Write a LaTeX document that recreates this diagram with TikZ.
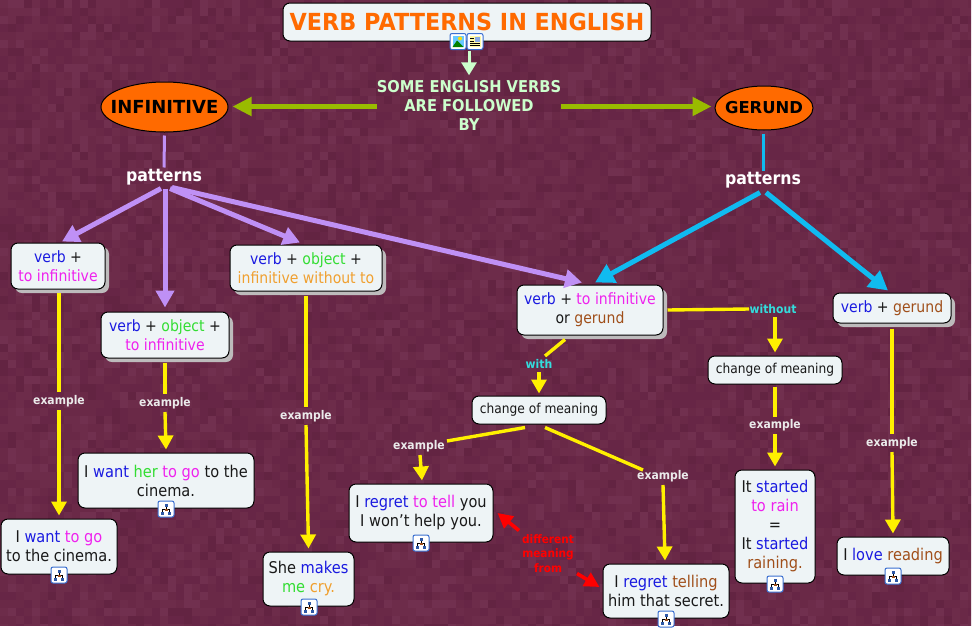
\documentclass[tikz,border=0pt]{standalone}
\usepackage{fontspec}
\setmainfont{DejaVu Sans}[FakeStretch=0.9]
\newfontfamily\widef{DejaVu Sans}
\newfontfamily\titlef{DejaVu Sans}[FakeStretch=0.95]
\usetikzlibrary{arrows.meta,shapes.geometric}
\definecolor{bgbase}{HTML}{6A2947}
\definecolor{tileA}{HTML}{632442}
\definecolor{tileB}{HTML}{672646}
\definecolor{tileC}{HTML}{6A2947}
\definecolor{tileD}{HTML}{6D2C4A}
\definecolor{tileE}{HTML}{71304F}
\definecolor{boxfill}{HTML}{EEF4F6}
\definecolor{shade}{HTML}{BDBBBC}
\definecolor{vblue}{HTML}{1A1AE0}
\definecolor{vmag}{HTML}{EE22EE}
\definecolor{vgreen}{HTML}{33DD33}
\definecolor{vorange}{HTML}{F0A030}
\definecolor{vbrown}{HTML}{A04F1A}
\definecolor{titleor}{HTML}{FF6A00}
\definecolor{mint}{HTML}{CCFFCC}
\definecolor{lime}{HTML}{99BB00}
\definecolor{purp}{HTML}{BF90F5}
\definecolor{sky}{HTML}{10BBF0}
\definecolor{yel}{HTML}{FFF000}
\definecolor{cyanlab}{HTML}{33DDDD}
\definecolor{iconblue}{HTML}{3A6FD0}
\newcommand{\cb}[1]{\textcolor{vblue}{#1}}
\newcommand{\cm}[1]{\textcolor{vmag}{#1}}
\newcommand{\cg}[1]{\textcolor{vgreen}{#1}}
\newcommand{\co}[1]{\textcolor{vorange}{#1}}
\newcommand{\cbr}[1]{\textcolor{vbrown}{#1}}
\tikzset{
  box/.style={draw=black,line width=1pt,fill=boxfill,rounded corners=7pt,inner sep=0pt,align=center,
    font=\fontsize{15.6}{19}\selectfont,text=black!90},
  bigbox/.style={box,font=\fontsize{16.2}{19}\selectfont},
  smallbox/.style={box,font=\fontsize{13.6}{16}\selectfont},
  sbox/.style={box,preaction={draw=none,fill=shade,transform canvas={shift={(4pt,-4pt)}}}},
  elli/.style={ellipse,draw=black,line width=1pt,fill=titleor,inner sep=0pt,text=black},
  plab/.style={inner sep=0pt,font=\fontsize{17.5}{20}\bfseries\selectfont,text=white},
  exlab/.style={inner sep=0pt,font=\fontsize{12}{14}\bfseries\selectfont,text=white!92!black},
  cylab/.style={inner sep=0pt,font=\fontsize{12}{14}\bfseries\selectfont,text=cyanlab},
  purpline/.style={draw=purp,line width=5pt},
  skyline/.style={draw=sky,line width=5pt},
  purptip/.style={purpline,-{Triangle[length=17pt,width=18pt]}},
  skytip/.style={skyline,-{Triangle[length=19pt,width=20pt]}},
  limetip/.style={draw=lime,line width=5pt,-{Triangle[length=19pt,width=18pt]}},
  yline/.style={draw=yel,line width=3.4pt},
  ytip/.style={yline,-{Triangle[length=14pt,width=15pt]}},
  redtip/.style={draw=red,line width=3.6pt,-{Triangle[length=15pt,width=15pt]}},
  mapicon/.pic={
    \draw[iconblue,line width=1pt,fill=white,rounded corners=2pt] (-8,-8) rectangle (8,8);
    \draw[black,line width=.6pt] (0,-3) -- (0,1) (-3.5,3) -- (-3.5,0) -- (3.5,0) -- (3.5,3);
    \fill[iconblue!80!black] (-1.5,-5.5) rectangle (1.5,-2.5);
    \fill[vbrown] (-1.5,-.5) rectangle (1.5,2);
    \fill[iconblue!80!black] (-5,3) rectangle (-2,5.5);
    \fill[iconblue!80!black] (2,3) rectangle (5,5.5);
  },
  imgicon/.pic={
    \draw[iconblue,line width=1pt,fill=white,rounded corners=2pt] (-8,-8) rectangle (8,8);
    \fill[blue!35!cyan!60!white] (-5.5,-5.5) rectangle (5.5,5.5);
    \fill[yellow!80!orange] (2,-3) circle (2);
    \fill[green!50!black] (-5.5,5.5) -- (-1,-1) -- (5.5,5.5) -- cycle;
  },
  txticon/.pic={
    \draw[iconblue,line width=1pt,fill=white,rounded corners=2pt] (-8,-8) rectangle (8,8);
    \fill[yellow!35!white] (-5.5,-5.5) rectangle (5.5,5.5);
    \draw[black,line width=.9pt] (-5,-3) -- (-1,-3) (-5,-.5) -- (-1,-.5) (-5,2) -- (5,2) (-5,4.4) -- (5,4.4);
    \fill[iconblue!60!white] (0,-5) rectangle (5,0);
  }
}
\begin{document}
\begin{tikzpicture}[x=1pt,y=-1pt]
\useasboundingbox (0,0) rectangle (974,632);
\fill[white] (0,0) rectangle (974,632);
\fill[bgbase] (0,0) rectangle (971,625);
\pgfmathsetseed{4217}
\begin{scope}
\clip (0,0) rectangle (971,625);
\foreach \yy in {0,8,...,624}{
  \foreach \xx in {0,8,...,968}{
    \pgfmathrandominteger{\rr}{1}{8}
    \ifcase\rr\or\def\tc{tileA}\or\def\tc{tileB}\or\def\tc{tileB}\or\def\tc{tileC}\or\def\tc{tileC}\or\def\tc{tileD}\or\def\tc{tileD}\or\def\tc{tileE}\fi
    \fill[\tc] (\xx,\yy) rectangle ++(8.3,8.3);
  }
}
\end{scope}

% nodes
\node[box,minimum width=368pt,minimum height=38pt,font=\titlef\fontsize{23.5}{30}\bfseries\selectfont,text=titleor] (t) at (467,22) {VERB PATTERNS IN ENGLISH};
\node[inner sep=0pt,minimum width=183pt,minimum height=58pt,align=center,text=mint,font=\fontsize{16.3}{19.3}\bfseries\selectfont] (top) at (469,105.5) {SOME ENGLISH VERBS\\ARE FOLLOWED\\BY};
\node[elli,minimum width=127pt,minimum height=50pt,font=\widef\fontsize{18}{20}\bfseries\selectfont] (inf) at (164.5,107) {\makebox[0pt]{INFINITIVE}};
\node[elli,minimum width=98pt,minimum height=44pt,font=\widef\fontsize{16.4}{20}\bfseries\selectfont] (ger) at (764,108) {\makebox[0pt]{GERUND}};
\node[plab] (pl) at (164,177.5) {patterns};
\node[plab] (pr) at (763,180.5) {patterns};

\node[sbox,minimum width=94pt,minimum height=46pt] (v1) at (58,266) {\cb{verb} +\\\cm{to infinitive}};
\node[sbox,minimum width=128pt,minimum height=46pt] (v2) at (165,335) {\cb{verb} + \cg{object} +\\\cm{to infinitive}};
\node[sbox,minimum width=152pt,minimum height=46pt] (v3) at (306,268) {\cb{verb} + \cg{object} +\\\co{infinitive without to}};
\node[sbox,minimum width=146pt,minimum height=50pt] (v4) at (590,310) {\cb{verb} + \cm{to infinitive}\\or \cbr{gerund}};
\node[sbox,minimum width=118pt,minimum height=30pt] (vg) at (892,308) {\cb{verb} + \cbr{gerund}};
\node[smallbox,minimum width=134pt,minimum height=28pt] (cR) at (775,370) {change of meaning};
\node[smallbox,minimum width=134pt,minimum height=28pt] (cL) at (539,410) {change of meaning};
\node[bigbox,minimum width=176pt,minimum height=55pt] (e2) at (166,480.5) {I \cb{want} \cg{her} \cm{to go} to the\\cinema.};
\node[bigbox,minimum width=116pt,minimum height=55pt] (e1) at (59,546.5) {I \cb{want} \cm{to go}\\to the cinema.};
\node[bigbox,minimum width=91pt,minimum height=54pt] (e3) at (308.5,579) {She \cb{makes}\\\cg{me} \co{cry.}};
\node[bigbox,minimum width=144pt,minimum height=58pt] (rT) at (421,513) {I \cb{regret} \cm{to tell} you\\I won{\char"0027}t help you.};
\node[bigbox,minimum width=126pt,minimum height=54pt] (rG) at (666,591) {I \cb{regret} \cbr{telling}\\him that secret.};
\node[bigbox,minimum width=80pt,minimum height=113pt] (st) at (775,526.5) {It \cb{started}\\\cm{to rain}\\=\\It \cb{started}\\\cbr{raining.}};
\node[bigbox,minimum width=112pt,minimum height=38pt] (lo) at (893,556) {I \cb{love} \cbr{reading}};

\node[exlab] (x1) at (59,401) {example};
\node[exlab] (x2) at (165,403) {example};
\node[exlab] (x3) at (306,416) {example};
\node[exlab] (x4) at (775,425) {example};
\node[exlab] (x5) at (892,443) {example};
\node[exlab] (x6) at (419,446) {example};
\node[exlab] (x7) at (663,476) {example};
\node[cylab] (w) at (539,364) {with};
\node[cylab] (wo) at (773,309) {without};
\node[inner sep=0pt,align=center,text=red,font=\fontsize{11.7}{14.5}\bfseries\selectfont] (d) at (548,553.5) {different\\meaning\\from};

% connectors
\draw[draw=mint,line width=3pt,-{Triangle[length=13pt,width=15pt]}] ([shift={(2,9)}]t.south) -- ([shift={(0,-1)}]top.north);
\draw[limetip] ([shift={(0,1)}]top.west) -- ([shift={(4,-0.5)}]inf.east);
\draw[limetip] ([shift={(0,1)}]top.east) -- ([shift={(-3,-1.5)}]ger.west);
\draw[draw=purp,line width=3pt] ([shift={(0,3)}]inf.south) -- ([shift={(0,-10)}]pl.center);
\draw[draw=sky,line width=3pt] ([shift={(-1,3)}]ger.south) -- ([shift={(0,-10)}]pr.center);
\draw[purptip] ([shift={(-3,11)}]pl.center) -- ([shift={(4,-1)}]v1.north);
\draw[purptip] ([shift={(1,11)}]pl.center) -- ([shift={(0,-4)}]v2.north);
\draw[purptip] ([shift={(6,11)}]pl.center) -- ([shift={(-6,-2)}]v3.north);
\draw[purptip] ([shift={(8,10)}]pl.center) -- ([shift={(-8,-2)}]v4.north);
\draw[skytip] ([shift={(-3,12)}]pr.center) -- ([shift={(5,-2)}]v4.north);
\draw[skytip] ([shift={(3,12)}]pr.center) -- ([shift={(-4,-2)}]vg.north);

\draw[yline] ([shift={(1,3)}]v1.south) -- ([shift={(0,-9)}]x1.center);
\draw[ytip] ([shift={(0,9)}]x1.center) -- ([shift={(0,-3)}]e1.north);
\draw[yline] ([shift={(0,4)}]v2.south) -- ([shift={(0,-9)}]x2.center);
\draw[ytip] ([shift={(0,9)}]x2.center) -- ([shift={(0,-3)}]e2.north);
\draw[yline] ([shift={(0,4)}]v3.south) -- ([shift={(0,-9)}]x3.center);
\draw[ytip] ([shift={(0,9)}]x3.center) -- ([shift={(0,-3)}]e3.north);
\draw[yline] ([shift={(-25,4)}]v4.south) -- ([shift={(6,-8)}]w.center);
\draw[ytip] ([shift={(0,8)}]w.center) -- ([shift={(0,-2)}]cL.north);
\draw[yline] ([shift={(4,0)}]v4.east) -- ([shift={(-24,0)}]wo.center);
\draw[ytip] ([shift={(2,8)}]wo.center) -- ([shift={(0,-3)}]cR.north);
\draw[yline] ([shift={(-14,3)}]cL.south) -- ([shift={(28,-5)}]x6.center);
\draw[ytip] ([shift={(1,9)}]x6.center) -- ([shift={(1,-3)}]rT.north);
\draw[yline] ([shift={(6,3)}]cL.south) -- ([shift={(-20,-6)}]x7.center);
\draw[ytip] ([shift={(0,9)}]x7.center) -- ([shift={(-1,-3)}]rG.north);
\draw[yline] ([shift={(0,2)}]cR.south) -- ([shift={(0,-8)}]x4.center);
\draw[ytip] ([shift={(0,9)}]x4.center) -- ([shift={(0,-3)}]st.north);
\draw[yline] ([shift={(0,5)}]vg.south) -- ([shift={(0,-9)}]x5.center);
\draw[ytip] ([shift={(0,9)}]x5.center) -- ([shift={(0,-3)}]lo.north);
\draw[redtip] ([shift={(-29,-23)}]d.center) -- ([shift={(4,0)}]rT.east);
\draw[redtip] ([shift={(29,20)}]d.center) -- ([shift={(-3,-4)}]rG.west);

% icons
\pic at (458,41.5) {imgicon};
\pic at (475,41.5) {txticon};
\pic at (166,509) {mapicon};
\pic at (59,575) {mapicon};
\pic at (309,607) {mapicon};
\pic at (421,543) {mapicon};
\pic at (666,619) {mapicon};
\pic at (775,584) {mapicon};
\pic at (893,576) {mapicon};
\end{tikzpicture}
\end{document}
